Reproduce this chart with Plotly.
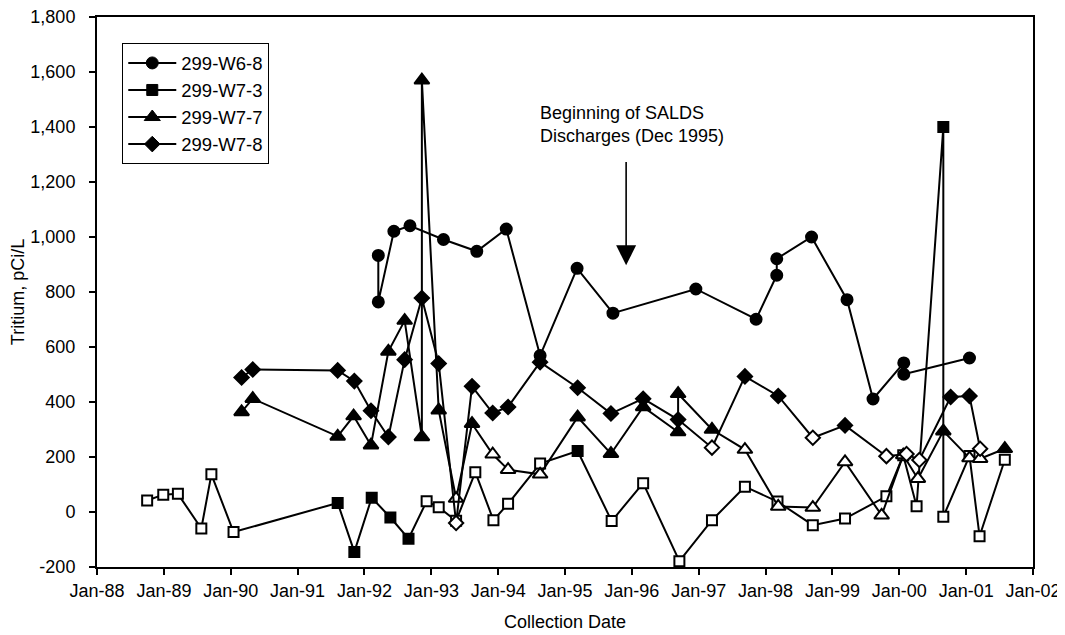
import plotly.graph_objects as go

# ---------------- data ----------------
w68_dates = ["1992-03-17", "1992-03-17", "1992-06-10", "1992-09-06", "1993-03-08", "1993-09-06",
             "1994-02-14", "1994-08-18", "1995-03-08", "1995-09-20", "1996-12-16", "1997-11-10",
             "1998-03-03", "1998-03-03", "1998-09-09", "1999-03-22", "1999-08-11", "2000-01-26",
             "2000-01-26", "2001-01-19"]
w68_vals = [933, 764, 1021, 1041, 991, 948, 1029, 569, 886, 723, 811, 701,
            861, 921, 1000, 772, 411, 542, 501, 560]
w68_detected = [True] * 20

w73_dates = ["1988-10-01", "1988-12-28", "1989-03-18", "1989-07-24", "1989-09-17", "1990-01-16",
             "1991-08-08", "1991-11-07", "1992-02-10", "1992-05-22", "1992-08-29", "1992-12-06",
             "1993-02-10", "1993-05-16", "1993-08-29", "1993-12-06", "1994-02-24", "1994-08-18",
             "1995-03-11", "1995-09-13", "1996-03-03", "1996-09-17", "1997-03-14", "1997-09-10",
             "1998-03-07", "1998-09-16", "1999-03-11", "1999-10-23", "2000-01-23", "2000-04-05",
             "2000-08-29", "2000-08-29", "2001-01-19", "2001-03-15", "2001-07-31"]
w73_vals = [42, 63, 66, -60, 137, -73,
            33, -145, 52, -20, -97, 39,
            17, -32, 145, -30, 30, 176,
            222, -33, 105, -179, -30, 92,
            38, -48, -24, 57, 206, 21,
            1400, -17, 204, -88, 190]
w73_detected = [False, False, False, False, False, False,
                True, True, True, True, True, False,
                False, False, False, False, False, False,
                True, False, False, False, False, False,
                False, False, False, False, False, False,
                True, False, False, False, False]

w77_dates = ["1990-03-01", "1990-05-01", "1991-08-08", "1991-11-03", "1992-02-06", "1992-05-11",
             "1992-08-08", "1992-11-10", "1992-11-10", "1993-02-10", "1993-05-16", "1993-08-11",
             "1993-12-02", "1994-02-24", "1994-08-18", "1995-03-11", "1995-09-09", "1996-03-03",
             "1996-09-10", "1996-09-10", "1997-03-14", "1997-09-10", "1998-03-11", "1998-09-16",
             "1999-03-11", "1999-09-27", "2000-01-23", "2000-04-12", "2000-08-29", "2001-01-19",
             "2001-03-18", "2001-07-31"]
w77_vals = [364, 412, 275, 349, 243, 584,
            696, 273, 1570, 370, 49, 321,
            210, 154, 137, 345, 212, 382,
            291, 430, 300, 227, 20, 16,
            182, -12, 207, 121, 294, 196,
            194, 230]
w77_detected = [True, True, True, True, True, True,
                True, True, True, True, False, True,
                False, False, False, True, True, True,
                True, True, True, False, False, False,
                False, False, False, False, True, False,
                False, True]

w78_dates = ["1990-03-01", "1990-05-01", "1991-08-08", "1991-11-07", "1992-02-06", "1992-05-11",
             "1992-08-08", "1992-11-10", "1993-02-10", "1993-05-16", "1993-08-11", "1993-12-02",
             "1994-02-24", "1994-08-18", "1995-03-11", "1995-09-09", "1996-03-03", "1996-09-10",
             "1997-03-14", "1997-09-10", "1998-03-11", "1998-09-16", "1999-03-11", "1999-10-23",
             "2000-02-10", "2000-04-20", "2000-10-08", "2001-01-19", "2001-03-18"]
w78_vals = [489, 518, 515, 476, 368, 273,
            554, 778, 540, -40, 457, 360,
            382, 545, 452, 358, 412, 336,
            234, 493, 422, 270, 315, 203,
            211, 189, 418, 422, 230]
w78_detected = [True, True, True, True, True, True,
                True, True, True, False, True, True,
                True, True, True, True, True, True,
                False, True, True, False, True, False,
                False, False, True, True, False]

series_names = ["299-W6-8", "299-W7-3", "299-W7-7", "299-W7-8"]

y_tickvals = [-200, 0, 200, 400, 600, 800, 1000, 1200, 1400, 1600, 1800]
y_ticktext = ["-200", "0", "200", "400", "600", "800", "1,000", "1,200", "1,400", "1,600", "1,800"]

note_text = "Beginning of SALDS<br>Discharges (Dec 1995)"
note_date = "1995-12-01"

# ---------------- figure ----------------
FONT = "Liberation Sans, Arial, sans-serif"
fig = go.Figure()

series = [
    (series_names[0], w68_dates, w68_vals, w68_detected, "circle", 11),
    (series_names[1], w73_dates, w73_vals, w73_detected, "square", 10),
    (series_names[2], w77_dates, w77_vals, w77_detected, "triangle-up", 13),
    (series_names[3], w78_dates, w78_vals, w78_detected, "diamond", 11),
]

for name, xs, ys, det, sym, size in series:
    fig.add_trace(go.Scatter(
        x=xs, y=ys, mode="lines+markers", name=name, showlegend=False,
        line=dict(color="black", width=2),
        marker=dict(symbol=sym, size=size,
                    color=["black" if d else "white" for d in det],
                    line=dict(color="black", width=2)),
    ))

for i, (name, xs, ys, det, sym, size) in enumerate(series):
    fig.add_trace(go.Scatter(
        x=[None], y=[None], mode="lines+markers", name=name, legendgroup=f"g{i}",
        line=dict(color="black", width=2),
        marker=dict(symbol=sym, size=size + 1, color="black", line=dict(color="black", width=1)),
    ))

fig.add_annotation(x="1994-08-05", y=1410, xref="x", yref="y", text=note_text,
                   showarrow=False, xanchor="left", yanchor="middle", align="left",
                   font=dict(family=FONT, size=18, color="black"))
fig.add_annotation(x=note_date, y=897, ax=note_date, ay=1278, xref="x", yref="y",
                   axref="x", ayref="y", text="", showarrow=True,
                   arrowhead=2, arrowsize=2.5, arrowwidth=1.6, arrowcolor="black")

# the page body adds an 8 px offset; margins compensate for it
fig.update_layout(
    width=1065, height=635,
    margin=dict(l=89, r=40, t=9, b=76),
    paper_bgcolor="white", plot_bgcolor="white",
    font=dict(family=FONT, size=18, color="black"),
    legend=dict(x=0.027, y=0.952, xanchor="left", yanchor="top",
                bordercolor="black", borderwidth=1, bgcolor="white",
                font=dict(size=18.5), tracegroupgap=6, traceorder="normal",
                itemwidth=48),
    xaxis=dict(type="date", range=["1988-01-01", "2002-01-01"],
               tick0="1988-01-01", dtick="M12", tickformat="%b-%y",
               showgrid=False, zeroline=False, showline=True, mirror=True,
               linecolor="black", linewidth=2, ticks="outside", ticklen=6,
               tickcolor="black", tickwidth=1.5, automargin=False,
               ticklabeloverflow="allow",
               title=dict(text="Collection Date", standoff=16, font=dict(size=18))),
    yaxis=dict(range=[-200, 1800], tickvals=y_tickvals, ticktext=y_ticktext,
               showgrid=False, zeroline=False, showline=True, mirror=True,
               linecolor="black", linewidth=2, ticks="outside", ticklen=6,
               tickcolor="black", tickwidth=1.5, ticklabelstandoff=10, automargin=False,
               ticklabeloverflow="allow",
               title=dict(text="Tritium, pCi/L", standoff=4, font=dict(size=18))),
)

fig.write_html("out.html")
